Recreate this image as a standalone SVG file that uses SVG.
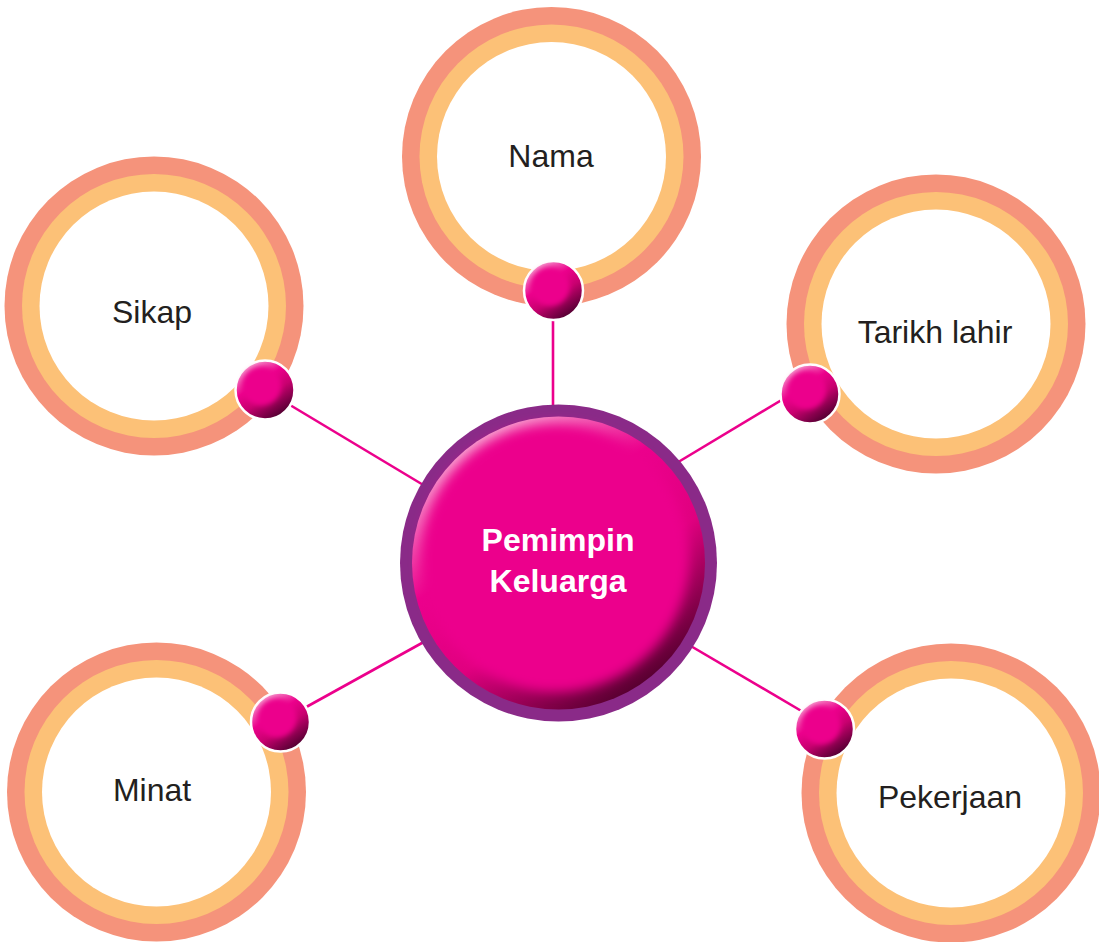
<svg xmlns="http://www.w3.org/2000/svg" width="1099" height="942" viewBox="0 0 1099 942">
<style>
.outer{fill:#F5937B}
.mid{fill:#FCC177}
.inner{fill:#FFFFFF}
.lbl{font-family:"Liberation Sans",Arial,sans-serif;font-size:32px;fill:#231F20;text-anchor:middle}
.ctr{font-family:"Liberation Sans",Arial,sans-serif;font-size:32px;font-weight:bold;fill:#FFFFFF;text-anchor:middle}
.conn{stroke:#EC008C;stroke-width:2.6;fill:none}
.ballbase{fill:url(#bevelB);stroke:#FFFFFF;stroke-width:2.5}
.ballcore{fill:#EC008C;filter:url(#blurS)}
</style>
<defs>
<linearGradient id="bevel" x1="0.2" y1="0.05" x2="0.8" y2="0.95">
<stop offset="0" stop-color="#F9B8DA"/>
<stop offset="0.35" stop-color="#EC008C"/>
<stop offset="0.62" stop-color="#E0007F"/>
<stop offset="1" stop-color="#4A0028"/>
</linearGradient>
<linearGradient id="bevelB" x1="0.2" y1="0.05" x2="0.8" y2="0.95">
<stop offset="0" stop-color="#F7B0D6"/>
<stop offset="0.35" stop-color="#EC008C"/>
<stop offset="0.6" stop-color="#C8006F"/>
<stop offset="1" stop-color="#45002A"/>
</linearGradient>
<filter id="blurS" x="-30%" y="-30%" width="160%" height="160%">
<feGaussianBlur stdDeviation="2.5"/>
</filter>
<filter id="blurL" x="-20%" y="-20%" width="140%" height="140%">
<feGaussianBlur stdDeviation="6"/>
</filter>
</defs>

<g id="connectors">
<line class="conn" x1="553" y1="300" x2="553" y2="420"/>
<line class="conn" x1="270" y1="393" x2="440" y2="495"/>
<line class="conn" x1="800" y1="389" x2="660" y2="473"/>
<line class="conn" x1="290" y1="716" x2="440" y2="633"/>
<line class="conn" x1="672" y1="635" x2="815" y2="719"/>
</g>

<g id="node-nama">
<circle class="outer" cx="551.5" cy="156.5" r="149.5"/>
<circle class="mid" cx="551.5" cy="156.5" r="132"/>
<circle class="inner" cx="551.5" cy="156.5" r="114.5"/>
<text class="lbl" x="551" y="167">Nama</text>
<circle class="ballbase" cx="553.5" cy="290.5" r="29.5"/>
<circle class="ballcore" cx="550" cy="286.5" r="19.5"/>
</g>

<g id="node-sikap">
<circle class="outer" cx="154" cy="306" r="149.5"/>
<circle class="mid" cx="154" cy="306" r="132"/>
<circle class="inner" cx="154" cy="306" r="114.5"/>
<text class="lbl" x="152" y="323">Sikap</text>
<circle class="ballbase" cx="265" cy="390" r="29.5"/>
<circle class="ballcore" cx="261.5" cy="386" r="19.5"/>
</g>

<g id="node-tarikh">
<circle class="outer" cx="936" cy="324" r="149.5"/>
<circle class="mid" cx="936" cy="324" r="132"/>
<circle class="inner" cx="936" cy="324" r="114.5"/>
<text class="lbl" x="935" y="343">Tarikh lahir</text>
<circle class="ballbase" cx="810" cy="394" r="29.5"/>
<circle class="ballcore" cx="806.5" cy="390" r="19.5"/>
</g>

<g id="node-minat">
<circle class="outer" cx="156.5" cy="792" r="149.5"/>
<circle class="mid" cx="156.5" cy="792" r="132"/>
<circle class="inner" cx="156.5" cy="792" r="114.5"/>
<text class="lbl" x="152" y="801">Minat</text>
<circle class="ballbase" cx="280.5" cy="722" r="29.5"/>
<circle class="ballcore" cx="277" cy="718" r="19.5"/>
</g>

<g id="node-pekerjaan">
<circle class="outer" cx="951" cy="793" r="149.5"/>
<circle class="mid" cx="951" cy="793" r="132"/>
<circle class="inner" cx="951" cy="793" r="114.5"/>
<text class="lbl" x="950" y="808">Pekerjaan</text>
<circle class="ballbase" cx="824.5" cy="729" r="29.5"/>
<circle class="ballcore" cx="821" cy="725" r="19.5"/>
</g>

<g id="node-center">
<circle cx="558.5" cy="563" r="158.5" fill="#8A2A88"/>
<circle cx="558.5" cy="563" r="146.5" fill="url(#bevel)"/>
<circle cx="555" cy="558" r="134" fill="#EC008C" filter="url(#blurL)"/>
<text class="ctr" x="558" y="551">Pemimpin</text>
<text class="ctr" x="558" y="592">Keluarga</text>
</g>
</svg>
